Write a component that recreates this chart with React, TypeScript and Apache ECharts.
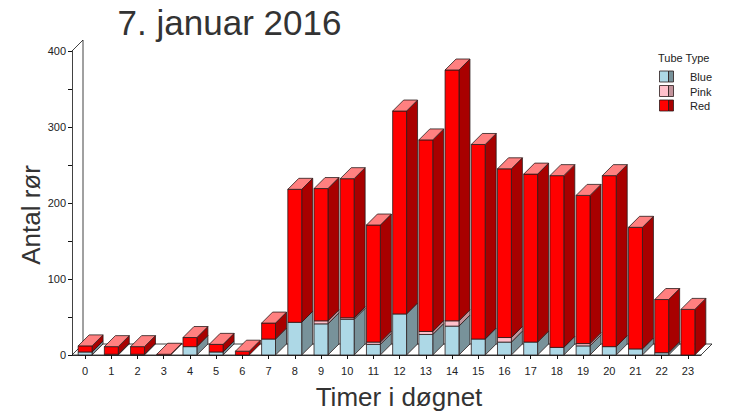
import React, { useEffect, useRef } from "react";
import * as echarts from "echarts";

const hours = ["0","1","2","3","4","5","6","7","8","9","10","11","12","13","14","15","16","17","18","19","20","21","22","23"];
const blueValues = [4, 1, 1, 0, 11, 4, 0, 21, 43, 41, 47, 14, 54, 27, 38, 21, 17, 17, 10, 12, 11, 8, 3, 0];
const pinkValues = [0, 0, 0, 0, 0, 0, 0, 0, 0, 4, 2, 3, 0, 4, 7, 0, 6, 0, 0, 3, 0, 0, 0, 0];
const redValues = [8, 10, 10, 1, 12, 10, 5, 21, 175, 174, 183, 154, 267, 252, 330, 256, 222, 221, 226, 195, 225, 160, 70, 60];
const yTicks = [0, 100, 200, 300, 400];

const seriesDefs = [
  { name: "Blue", values: blueValues, front: "#add8e6", side: "#78929a", top: "#d4ecf3" },
  { name: "Pink", values: pinkValues, front: "#ffc0cb", side: "#c2939b", top: "#ffdde3" },
  { name: "Red", values: redValues, front: "#ff0000", side: "#a80000", top: "#ff8080" },
];

const FONT = "'Liberation Sans', Arial, sans-serif";
const DEPTH = 11;
const EDGE = "#2a1a1a";

export default function App() {
  const ref = useRef<HTMLDivElement>(null);
  useEffect(() => {
    if (!ref.current) return;
    document.body.style.margin = "0";
    const chart = echarts.init(ref.current, null, { renderer: "svg" });

    const barSeries = seriesDefs.map((def, s) => ({
      type: "custom",
      name: def.name,
      z: 3,
      clip: false,
      data: hours.map((h, i) => [i, def.values[i]]),
      renderItem: (params: any, api: any) => {
        const i = api.value(0);
        const v = api.value(1);
        let base = 0;
        for (let k = 0; k < s; k++) base += seriesDefs[k].values[i];
        let above = 0;
        for (let k = s + 1; k < seriesDefs.length; k++) above += seriesDefs[k].values[i];
        const isTop = above === 0 && (v > 0 || (base === 0 && s === seriesDefs.length - 1));
        if (v <= 0 && !isTop) return null;
        const p0 = api.coord([i, base]);
        const p1 = api.coord([i, base + v]);
        const bw = api.size([1, 0])[0] * 0.53;
        const x0 = p0[0] - bw / 2;
        const x1 = p0[0] + bw / 2;
        const yb = p0[1];
        const yt = p1[1];
        const d = DEPTH;
        const children: any[] = [];
        if (v > 0) {
          children.push({
            type: "polygon",
            shape: { points: [[x1, yb], [x1 + d, yb - d], [x1 + d, yt - d], [x1, yt]] },
            style: { fill: def.side, stroke: EDGE, lineWidth: 0.8 },
          });
          children.push({
            type: "rect",
            shape: { x: x0, y: yt, width: bw, height: yb - yt },
            style: { fill: def.front, stroke: EDGE, lineWidth: 0.8 },
          });
        }
        if (isTop) {
          children.push({
            type: "polygon",
            shape: { points: [[x0, yt], [x1, yt], [x1 + d, yt - d], [x0 + d, yt - d]] },
            style: { fill: def.top, stroke: EDGE, lineWidth: 0.8 },
          });
        }
        return { type: "group", children };
      },
    }));

    const floorSeries = {
      type: "custom",
      name: "floor",
      z: 1,
      clip: false,
      silent: true,
      data: [[0, 0]],
      renderItem: (params: any, api: any) => {
        const cs = params.coordSys;
        const d = DEPTH;
        const yf = cs.y + cs.height;
        return {
          type: "group",
          children: [
            {
              type: "polygon",
              shape: { points: [[cs.x, yf], [cs.x + cs.width, yf], [cs.x + cs.width + d, yf - d], [cs.x + d, yf - d]] },
              style: { fill: "#ffffff", stroke: "#111", lineWidth: 0.8 },
            },
            {
              type: "line",
              shape: { x1: cs.x + d, y1: yf - d, x2: cs.x + d, y2: cs.y - d },
              style: { stroke: "#111", lineWidth: 0.8 },
            },
            {
              type: "line",
              shape: { x1: cs.x, y1: cs.y, x2: cs.x + d, y2: cs.y - d },
              style: { stroke: "#111", lineWidth: 0.8 },
            },
          ],
        };
      },
    };

    const legendGraphics: any[] = [
      {
        type: "text",
        left: 658,
        top: 52,
        style: { text: "Tube Type", font: `11px ${FONT}`, fill: "#222" },
      },
    ];
    seriesDefs.forEach((def, k) => {
      const y = 71 + k * 14.5;
      legendGraphics.push({
        type: "rect",
        shape: { x: 659.5, y, width: 9, height: 11 },
        style: { fill: def.front, stroke: EDGE, lineWidth: 0.8 },
      });
      legendGraphics.push({
        type: "rect",
        shape: { x: 668.5, y, width: 5, height: 11 },
        style: { fill: def.side, stroke: EDGE, lineWidth: 0.8 },
      });
      legendGraphics.push({
        type: "text",
        x: 690,
        y: y + 6,
        style: { text: def.name, font: `11px ${FONT}`, fill: "#222", textVerticalAlign: "middle" },
      });
    });

    chart.setOption({
      animation: false,
      backgroundColor: "#ffffff",
      grid: { left: 72, right: 28, top: 51, bottom: 59 },
      xAxis: {
        type: "category",
        data: hours,
        boundaryGap: true,
        axisLine: { show: true, lineStyle: { color: "#111", width: 0.8 } },
        axisTick: { show: true, alignWithLabel: true, length: 4, lineStyle: { color: "#111" } },
        axisLabel: { color: "#222", fontSize: 11, fontFamily: FONT, margin: 10, interval: 0 },
        splitLine: { show: false },
        z: 5,
      },
      yAxis: {
        type: "value",
        min: 0,
        max: 400,
        interval: 100,
        axisLine: { show: true, lineStyle: { color: "#111", width: 0.8 } },
        axisTick: { show: true, length: 4, lineStyle: { color: "#111" } },
        minorTick: { show: true, splitNumber: 2, length: 4, lineStyle: { color: "#111" } },
        axisLabel: {
          color: "#222",
          fontSize: 11,
          fontFamily: FONT,
          margin: 6,
          formatter: (val: number) => (yTicks.indexOf(val) >= 0 ? String(val) : ""),
        },
        splitLine: { show: false },
        z: 5,
      },
      graphic: [
        {
          type: "text",
          x: 229.5,
          y: 22,
          style: {
            text: "7. januar 2016",
            font: `35px ${FONT}`,
            fill: "#333333",
            textAlign: "center",
            textVerticalAlign: "middle",
          },
        },
        {
          type: "text",
          x: 399,
          y: 397,
          style: {
            text: "Timer i døgnet",
            font: `26px ${FONT}`,
            fill: "#333333",
            textAlign: "center",
            textVerticalAlign: "middle",
          },
        },
        {
          type: "text",
          x: 31,
          y: 215,
          rotation: Math.PI / 2,
          style: {
            text: "Antal rør",
            font: `26px ${FONT}`,
            fill: "#333333",
            textAlign: "center",
            textVerticalAlign: "middle",
          },
        },
        ...legendGraphics,
      ],
      series: [floorSeries, ...barSeries],
    });
    return () => chart.dispose();
  }, []);
  return <div ref={ref} style={{ width: 729, height: 414 }} />;
}
